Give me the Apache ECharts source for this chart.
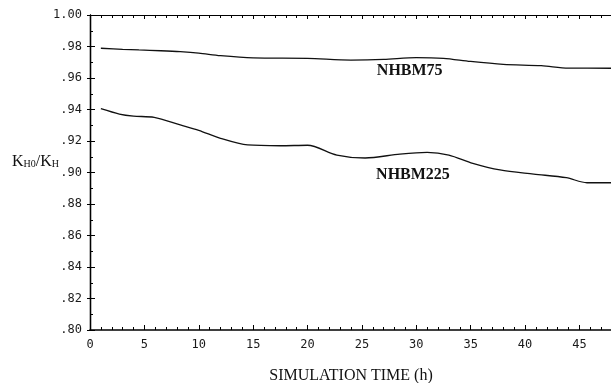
<!DOCTYPE html>
<html>
<head>
  <meta charset="utf-8">
  <title>KH0/KH vs simulation time</title>
  <script src="https://cdn.jsdelivr.net/npm/echarts/dist/echarts.min.js"></script>
  <style>
    html, body { margin: 0; padding: 0; background: #fff; }
    #chart { width: 611px; height: 383px; }
  </style>
</head>
<body>
  <div id="chart"></div>
  <script>
    // values
    const time75 = [1, 3, 4.5, 6.5, 8.3, 10, 12, 15, 20, 24, 27, 30, 32.5, 35, 38, 41.5, 44, 48];
    const ratio75 = [0.9789, 0.9782, 0.9778, 0.9773, 0.9767, 0.9758, 0.9742, 0.9728, 0.9725, 0.9714, 0.9718, 0.9730, 0.9725, 0.9705, 0.9687, 0.9678, 0.9663, 0.9662];

    const time225 = [1, 2.7, 4, 5.9, 8.3, 10, 12, 14.5, 17.5, 20, 22.7, 25.3, 28.5, 31, 33, 35.2, 37.7, 40.8, 43.8, 45.7, 48];
    const ratio225 = [0.9405, 0.9371, 0.9358, 0.9350, 0.9302, 0.9268, 0.9217, 0.9175, 0.9170, 0.9173, 0.9111, 0.9092, 0.9117, 0.9128, 0.9111, 0.9058, 0.9016, 0.8990, 0.8967, 0.8935, 0.8935];

    const curveNames = ['NHBM75', 'NHBM225'];
    const labelAt = [[29.4, 0.9644], [29.7, 0.8985]];

    const yTicks = ['.80', '.82', '.84', '.86', '.88', '.90', '.92', '.94', '.96', '.98', '1.00'];

    const pairs = (xs, ys) => xs.map((x, i) => [x, ys[i]]);
    const tickFont = { fontFamily: 'DejaVu Sans Mono', fontSize: 12, color: '#1a1a1a' };
    const curveLabel = { show: true, fontFamily: 'Liberation Serif', fontWeight: 'bold', fontSize: 16, color: '#111' };

    const chart = echarts.init(document.getElementById('chart'));
    chart.setOption({
      animation: false,
      backgroundColor: '#fff',
      grid: { left: 90, right: -1, top: 15, bottom: 53, containLabel: false, outerBoundsMode: 'none' },
      xAxis: [
        {
          type: 'value', min: 0, max: 48, interval: 5,
          name: 'SIMULATION TIME (h)', nameLocation: 'middle', nameGap: 38,
          nameTextStyle: { fontFamily: 'Liberation Serif', fontSize: 16, color: '#111' },
          axisLine: { lineStyle: { color: '#000', width: 1.6 } },
          axisTick: { inside: true, length: 5, lineStyle: { color: '#000' } },
          minorTick: { show: true, splitNumber: 5, length: 3, lineStyle: { color: '#000' } },
          axisLabel: Object.assign({ margin: 9, showMaxLabel: false }, tickFont),
          splitLine: { show: false }
        },
        {
          type: 'value', position: 'top', min: 0, max: 48, interval: 5,
          axisLine: { show: true, lineStyle: { color: '#000', width: 1.2 } },
          axisTick: { inside: true, length: 4, lineStyle: { color: '#000' } },
          minorTick: { show: true, splitNumber: 5, length: 3, lineStyle: { color: '#000' } },
          axisLabel: { show: false },
          splitLine: { show: false }
        }
      ],
      yAxis: [
        {
          type: 'value', min: 0.8, max: 1.0, interval: 0.02,
          axisLine: { show: true, lineStyle: { color: '#000', width: 1.4 } },
          axisTick: { inside: true, length: 5, lineStyle: { color: '#000' } },
          minorTick: { show: true, splitNumber: 2, length: 3, lineStyle: { color: '#000' } },
          axisLabel: Object.assign({
            margin: 8,
            formatter: v => yTicks[Math.round((v - 0.8) / 0.02)]
          }, tickFont),
          splitLine: { show: false }
        },
        {
          type: 'value', position: 'right', min: 0.8, max: 1.0, interval: 0.02,
          axisLine: { show: true, lineStyle: { color: '#000', width: 1.2 } },
          axisTick: { inside: true, length: 3, lineStyle: { color: '#000' } },
          axisLabel: { show: false },
          splitLine: { show: false }
        }
      ],
      graphic: [
        {
          type: 'text', left: 12, top: 154,
          style: {
            text: 'K{s|H0}/K{s|H}',
            fontFamily: 'Liberation Serif', fontSize: 16, fill: '#111',
            rich: { s: { fontFamily: 'Liberation Serif', fontSize: 10, padding: [5, 0, 0, 0] } }
          }
        }
      ],
      series: [
        {
          name: curveNames[0], type: 'line', data: pairs(time75, ratio75),
          smooth: 0.3, showSymbol: false, silent: true,
          lineStyle: { color: '#111', width: 1.3 },
          markPoint: {
            symbolSize: 0,
            label: Object.assign({ formatter: curveNames[0] }, curveLabel),
            data: [{ coord: labelAt[0] }]
          }
        },
        {
          name: curveNames[1], type: 'line', data: pairs(time225, ratio225),
          smooth: 0.3, showSymbol: false, silent: true,
          lineStyle: { color: '#111', width: 1.3 },
          markPoint: {
            symbolSize: 0,
            label: Object.assign({ formatter: curveNames[1] }, curveLabel),
            data: [{ coord: labelAt[1] }]
          }
        }
      ]
    });
  </script>
</body>
</html>
